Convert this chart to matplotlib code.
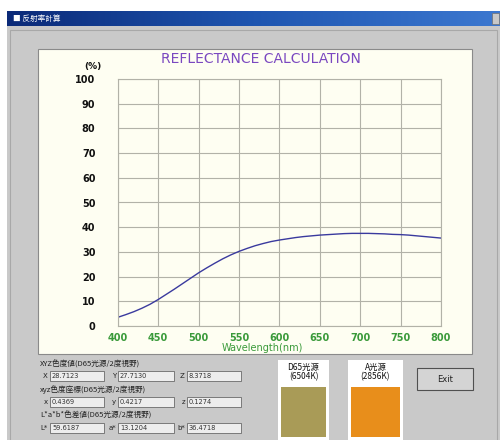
import matplotlib
matplotlib.use("Agg")
import matplotlib.pyplot as plt
from matplotlib.patches import Rectangle
from matplotlib.colors import LinearSegmentedColormap
import numpy as np

# ---- data ----
wavelength = [400, 410, 420, 430, 440, 450, 460, 470, 480, 490, 500, 510, 520, 530, 540,
              550, 560, 570, 580, 590, 600, 610, 620, 630, 640, 650, 660, 670, 680, 690,
              700, 710, 720, 730, 740, 750, 760, 770, 780, 790, 800]
reflectance = [3.5, 4.6, 5.8, 7.2, 8.8, 10.7, 12.8, 14.9, 17.1, 19.3, 21.5, 23.5, 25.4, 27.2, 28.8,
               30.2, 31.4, 32.5, 33.4, 34.2, 34.8, 35.3, 35.8, 36.2, 36.5, 36.8, 37.0, 37.2, 37.4, 37.5,
               37.5, 37.5, 37.4, 37.3, 37.1, 37.0, 36.8, 36.5, 36.2, 35.9, 35.6]
x_ticks = [400, 450, 500, 550, 600, 650, 700, 750, 800]
x_tick_labels = ["400", "450", "500", "550", "600", "650", "700", "750", "800"]
y_ticks = [0, 10, 20, 30, 40, 50, 60, 70, 80, 90, 100]
chart_title = "REFLECTANCE CALCULATION"
x_label = "Wavelength(nm)"
y_unit = "(%)"
window_title = "反射率計算"
group_titles = ["XYZ色度値(D65光源/2度視野)", "xyz色度座標(D65光源/2度視野)", "L*a*b*色差値(D65光源/2度視野)"]
field_labels = [["X", "Y", "Z"], ["x", "y", "z"], ["L*", "a*", "b*"]]
field_values = [["28.7123", "27.7130", "8.3718"], ["0.4369", "0.4217", "0.1274"], ["59.6187", "13.1204", "36.4718"]]
swatch_labels = ["D65光源\n(6504K)", "A光源\n(2856K)"]
swatch_colors = ["#A99B57", "#E88E1B"]
button_label = "Exit"

CJK = ['Noto Sans CJK SC', 'DejaVu Sans']
W, H = 502, 440
fig = plt.figure(figsize=(W / 100, H / 100), dpi=100)
fig.patch.set_facecolor("white")

def px_rect(x0, y0, x1, y1, zorder=1, **kw):
    r = Rectangle((x0 / W, 1 - y1 / H), (x1 - x0) / W, (y1 - y0) / H,
                  transform=fig.transFigure, zorder=zorder, **kw)
    fig.patches.append(r)
    return r

def px_text(x, y, s, **kw):
    return fig.text(x / W, 1 - y / H, s, **kw)

# window body (behind everything)
px_rect(7, 11, 500, 440, zorder=-10, facecolor="#C9C9C9", edgecolor="none")
px_rect(10, 30, 497, 441, zorder=-9, facecolor="none", edgecolor="#A8A8A8", linewidth=0.8)
# chart panel
px_rect(38, 49, 472, 354, zorder=-8, facecolor="#FEFEF2", edgecolor="#8A8A8A", linewidth=0.8)

# title bar gradient
grad = np.linspace(0, 1, 256).reshape(1, -1)
cm = LinearSegmentedColormap.from_list("tb", ["#0B2A78", "#1E55B0", "#3C78D0"])
tb_ax = fig.add_axes([7 / W, 1 - 26 / H, (500 - 7) / W, 15 / H])
tb_ax.imshow(grad, aspect="auto", cmap=cm)
tb_ax.axis("off")
px_text(13, 18.5, "■ " + window_title, color="white", fontsize=5.5, va="center", ha="left",
        family=CJK, zorder=5)
px_rect(492, 13, 499, 24, zorder=5, facecolor="#C8C8C8", edgecolor="#707070", linewidth=0.5)

# plot area
ax_l, ax_r, ax_t, ax_b = 117.7, 441.0, 79.0, 326.0
ax = fig.add_axes([ax_l / W, 1 - ax_b / H, (ax_r - ax_l) / W, (ax_b - ax_t) / H])
ax.set_facecolor("#FEFEF2")
ax.plot(wavelength, reflectance, color="#3A3A9E", linewidth=1.0)
ax.set_xlim(400, 800)
ax.set_ylim(0, 100)
ax.set_xticks(x_ticks)
ax.set_xticklabels(x_tick_labels)
ax.set_yticks(y_ticks)
ax.grid(True, color="#B2B2A8", linewidth=0.8)
ax.set_axisbelow(True)
for s in ax.spines.values():
    s.set_color("#B2B2A8")
    s.set_linewidth(0.8)
ax.tick_params(length=0)
for lab in ax.get_xticklabels():
    lab.set_color("#3A9A3A")
    lab.set_fontsize(7)
    lab.set_fontweight("bold")
for lab in ax.get_yticklabels():
    lab.set_color("#111111")
    lab.set_fontsize(7)
    lab.set_fontweight("bold")
ax.tick_params(axis="y", pad=16)
ax.tick_params(axis="x", pad=5)

px_text(262, 348, x_label, color="#3A9A3A", fontsize=7, ha="center", va="center")
px_text(261, 59, chart_title, color="#7A48C0", fontsize=10, ha="center", va="center")
px_text(93, 66, y_unit, color="#111111", fontsize=6.5, fontweight="bold", ha="center", va="center")

# bottom-left fields
rows_text_y = [364, 390, 415]
rows_box_y = [376, 402, 428]
box_x = [(50, 104), (118, 174), (187, 241)]
for i in range(3):
    px_text(40, rows_text_y[i], group_titles[i], fontsize=5.5, color="#222222",
            ha="left", va="center", family=CJK)
    for j in range(3):
        x0, x1 = box_x[j]
        px_text(x0 - 2, rows_box_y[i], field_labels[i][j], fontsize=5, color="#222222",
                ha="right", va="center")
        px_rect(x0, rows_box_y[i] - 5, x1, rows_box_y[i] + 5, facecolor="#EDEDED",
                edgecolor="#6A6A6A", linewidth=0.6)
        px_text(x0 + 2, rows_box_y[i], field_values[i][j], fontsize=4.8, color="#333333",
                ha="left", va="center")

# swatches
panels = [(278, 329), (348, 403)]
for k in range(2):
    x0, x1 = panels[k]
    px_rect(x0, 360, x1, 440, facecolor="#FFFFFF", edgecolor="none")
    px_text((x0 + x1) / 2, 372, swatch_labels[k], fontsize=6, color="#111111",
            ha="center", va="center", family=CJK, linespacing=0.95)
    px_rect(x0 + 3, 387, x1 - 3, 437, facecolor=swatch_colors[k], edgecolor="none")

# button
px_rect(417, 368, 473, 390, facecolor="#D4D4D4", edgecolor="#505050", linewidth=0.8)
px_text(445, 379, button_label, fontsize=6, color="#222222", ha="center", va="center")

fig.savefig("out.png", dpi=100)
